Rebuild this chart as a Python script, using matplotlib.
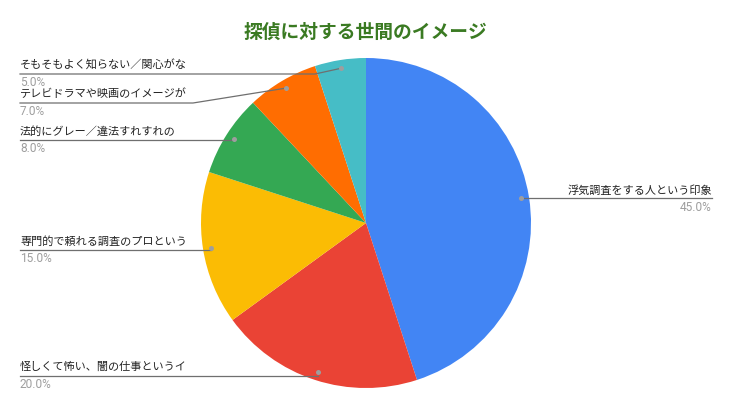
import numpy as np
import matplotlib
matplotlib.use("Agg")
import matplotlib.pyplot as plt

plt.rcParams['font.family'] = ['Noto Sans CJK JP', 'DejaVu Sans']

# ---- data ----
title = "探偵に対する世間のイメージ"
categories = [
    "浮気調査をする人という印象",
    "怪しくて怖い、闇の仕事というイ",
    "専門的で頼れる調査のプロという",
    "法的にグレー／違法すれすれの",
    "テレビドラマや映画のイメージが",
    "そもそもよく知らない／関心がな",
]
values = [45.0, 20.0, 15.0, 8.0, 7.0, 5.0]
colors = ["#4285F4", "#EA4335", "#FBBC04", "#34A853", "#FF6D01", "#46BDC6"]

# ---- layout (pixel space) ----
W, H = 732, 413
cx, cy, R = 366, 223, 165
# label line y (pixels from top) and elbow x for left-side labels
label_line_y = [None, 376, 250, 140, 103, 74]
elbow_x = [None, None, None, None, 193, 315]

fig = plt.figure(figsize=(W / 100, H / 100), dpi=100)
ax = fig.add_axes([0, 0, 1, 1])

def fy(y):
    return H - y

wedges, _ = ax.pie(values, colors=colors, startangle=90, counterclock=False,
                   center=(cx, fy(cy)), radius=R,
                   wedgeprops=dict(linewidth=0))
ax.set_xlim(0, W)
ax.set_ylim(0, H)
ax.set_aspect('equal')
ax.axis('off')

line_col = "#6f6f6f"
dot_col = "#9e9e9e"
txt_fs = 8.0
pct_fs = 8.6
pct_family = ['Roboto', 'DejaVu Sans']
for i, (w, cat, v) in enumerate(zip(wedges, categories, values)):
    mid = np.deg2rad((w.theta1 + w.theta2) / 2)
    dx = cx + 0.95 * R * np.cos(mid)
    dyp = fy(cy) + 0.95 * R * np.sin(mid)
    ax.plot([dx], [dyp], 'o', ms=3.6, color=dot_col, zorder=5, mec='none')
    pct = f"{v:.1f}%"
    if np.cos(mid) > 0:
        xend = 712
        ax.plot([dx, xend], [dyp, dyp], color=line_col, lw=0.9, zorder=4)
        ax.text(xend, dyp + 8, cat, ha='right', va='center', fontsize=txt_fs, color="#222222")
        ax.text(xend, dyp - 9, pct, ha='right', va='center', fontsize=pct_fs,
                color="#9e9e9e", family=pct_family)
    else:
        ly = fy(label_line_y[i])
        ex = elbow_x[i]
        if ex is None:
            ax.plot([20, dx], [ly, ly], color=line_col, lw=0.9, zorder=4)
        else:
            ax.plot([20, ex, dx], [ly, ly, dyp], color=line_col, lw=0.9, zorder=4)
        ax.text(20, ly + 9, cat, ha='left', va='center', fontsize=txt_fs, color="#222222")
        ax.text(20, ly - 8.5, pct, ha='left', va='center', fontsize=pct_fs,
                color="#9e9e9e", family=pct_family)

ax.text(365, fy(32), title, ha='center', va='center', fontsize=13.5,
        fontweight='bold', color="#3a7a22")

fig.savefig("out.png", dpi=100)
